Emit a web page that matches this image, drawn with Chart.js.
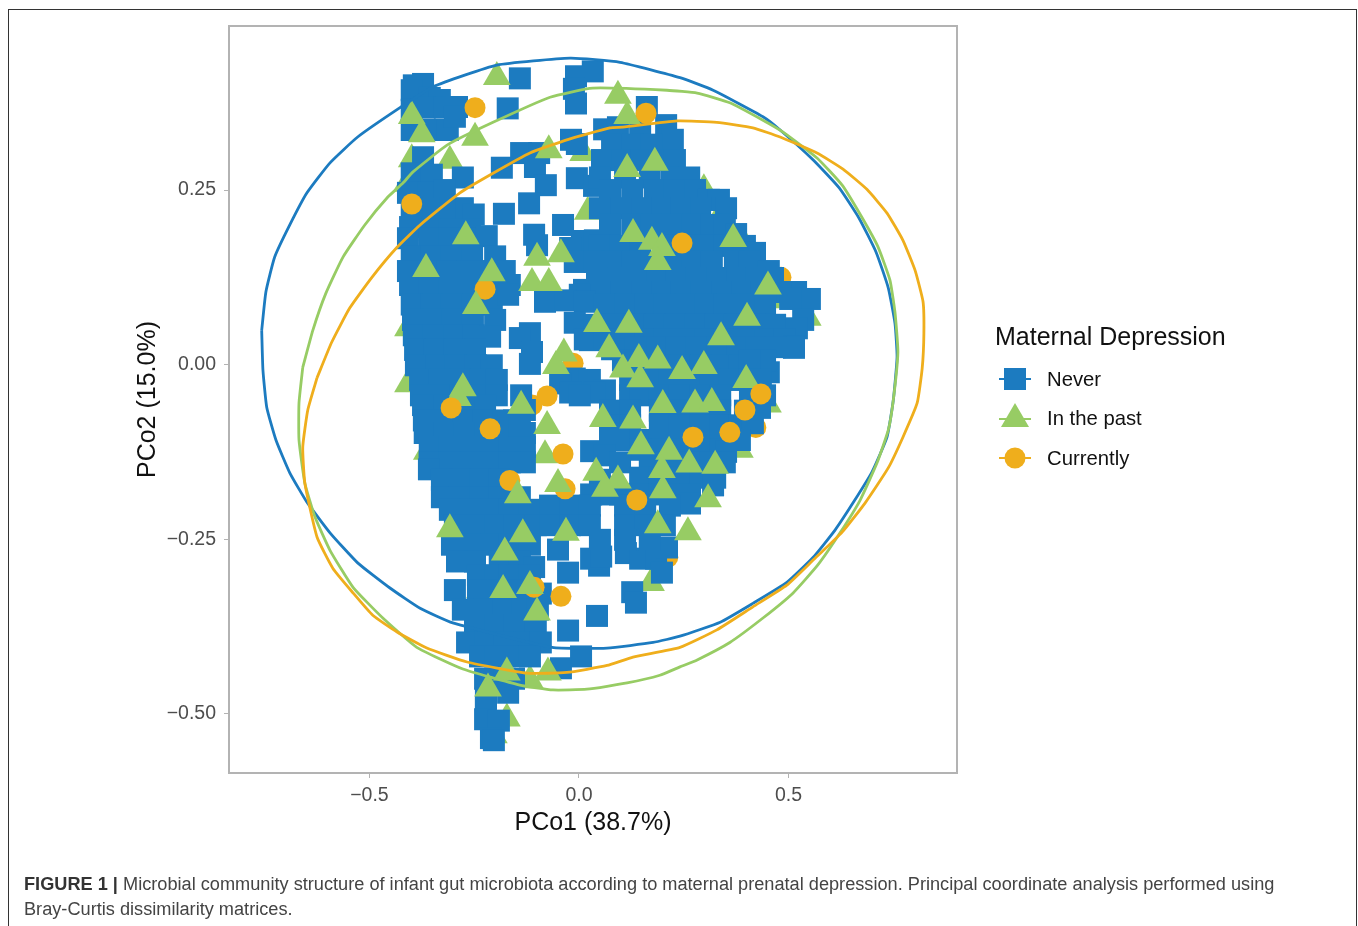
<!DOCTYPE html>
<html>
<head>
<meta charset="utf-8">
<title>Figure 1</title>
<script src="https://cdn.jsdelivr.net/npm/chart.js@4"></script>
<style>
    body { margin: 0; background: #fff; font-family: "Liberation Sans", Arial, sans-serif; }
    #wrap { position: relative; width: 1358px; height: 926px; overflow: hidden; }
    #frame { position: absolute; left: 8px; top: 9px; width: 1347px; height: 930px; border: 1px solid #333; }
    #chart { position: absolute; left: 0; top: 0; }
    #legend { position: absolute; left: 995px; top: 319px; color: #111; }
    #legendTitle { font-size: 25px; line-height: 34px; white-space: nowrap; }
    .item { position: absolute; left: 0; width: 200px; height: 40px; font-size: 20.3px; line-height: 40px; white-space: nowrap; }
    .item svg { position: absolute; left: 0; top: 0; }
    .item span { position: absolute; left: 52px; }
    #caption { position: absolute; left: 24px; top: 872px; width: 1310px; font-size: 18.18px; line-height: 25px; color: #444; white-space: nowrap; }
    #caption b { color: #333; }
</style>
</head>
<body>
<div id="wrap">
    <div id="frame"></div>
    <canvas id="chart" width="1358" height="926"></canvas>
    <div id="legend">
        <div id="legendTitle">Maternal Depression</div>
        <div class="item" style="top:40px"><svg width="40" height="40"><line x1="4" y1="20" x2="36" y2="20" stroke="#1c7bc0" stroke-width="2"/><rect x="9" y="9" width="22" height="22" fill="#1c7bc0"/></svg><span>Never</span></div>
        <div class="item" style="top:79px"><svg width="40" height="40"><line x1="4" y1="21" x2="36" y2="21" stroke="#97cc64" stroke-width="2"/><polygon points="20,5 34,29 6,29" fill="#97cc64"/></svg><span>In the past</span></div>
        <div class="item" style="top:119px"><svg width="40" height="40"><line x1="4" y1="20" x2="36" y2="20" stroke="#efae1c" stroke-width="2"/><circle cx="20" cy="20" r="10.5" fill="#efae1c"/></svg><span>Currently</span></div>
    </div>
    <div id="caption"><b>FIGURE 1 |</b> Microbial community structure of infant gut microbiota according to maternal prenatal depression. Principal coordinate analysis performed using<br>Bray-Curtis dissimilarity matrices.</div>
</div>
<script>
const xTicks = [-0.5, 0, 0.5];
const xTickLabels = ['\u22120.5', '0.0', '0.5'];
const yTicks = [-0.5, -0.25, 0, 0.25];
const yTickLabels = ['\u22120.50', '\u22120.25', '0.00', '0.25'];

const neverPoints = [
    [-.141,.410],[-.007,.413],[.033,.420],[-.012,.395],[-.007,.374],[-.170,.367],[.162,.369],
    [-.138,.303],[-.095,.303],[-.184,.282],[-.105,.283],[-.079,.257],[-.119,.231],[-.179,.216],[-.019,.322],[-.005,.316],
    [-.005,.267],[.036,.256],[-.038,.200],[-.107,.186],[-.100,.171],[.007,.177],[-.021,.167],[.043,.143],[.012,.107],
    [-.010,.147],[.038,.178],[.026,.035],
    [-.394,.400],[-.372,.402],[-.399,.393],[-.356,.382],[-.332,.379],[-.399,.365],[-.368,.368],[-.320,.368],[-.291,.369],
    [-.399,.336],[-.351,.336],[-.313,.336],[-.296,.355],[-.372,.297],[-.399,.274],[-.351,.272],[-.277,.268],
    [-.408,.246],[-.360,.246],[-.320,.250],[-.277,.224],[-.320,.224],[-.360,.224],[-.399,.224],[-.251,.215],
    [-.403,.197],[-.356,.193],[-.308,.193],[-.260,.193],[-.408,.181],[-.356,.181],[-.308,.181],[-.260,.181],[-.220,.184],
    [-.399,.155],[-.351,.155],[-.303,.155],[-.255,.155],[-.200,.155],[-.408,.134],[-.360,.134],[-.313,.134],[-.265,.134],[-.217,.134],[-.177,.134],
    [-.403,.114],[-.356,.114],[-.308,.114],[-.260,.114],[-.212,.114],[-.165,.114],
    [-.399,.086],[-.351,.086],[-.303,.086],[-.255,.086],[-.208,.086],[-.169,.100],
    [-.396,.064],[-.348,.064],[-.301,.064],[-.253,.064],[-.200,.064],[-.394,.042],[-.346,.042],[-.298,.042],[-.251,.042],[-.212,.040],
    [-.391,.021],[-.344,.021],[-.296,.021],[-.248,.021],[-.389,-.001],[-.341,-.001],[-.294,-.001],[-.246,-.001],[-.208,-.001],
    [-.379,-.022],[-.332,-.022],[-.284,-.022],[-.236,-.022],[-.196,-.022],[-.377,-.044],[-.329,-.044],[-.282,-.044],[-.234,-.044],[-.196,-.044],
    [-.372,-.058],[-.320,-.058],[-.272,-.058],[-.224,-.058],[-.370,-.080],[-.322,-.080],[-.275,-.080],[-.227,-.080],[-.179,-.080],[-.155,-.080],
    [-.368,-.098],[-.320,-.098],[-.272,-.098],[-.224,-.098],[-.177,-.098],[-.129,-.098],
    [-.356,-.118],[-.308,-.118],[-.260,-.118],[-.212,-.118],[-.165,-.118],[-.129,-.118],
    [-.356,-.140],[-.308,-.140],[-.260,-.140],[-.212,-.140],[-.165,-.140],[-.129,-.140],[-.358,-.150],
    [-.327,-.165],[-.284,-.165],[-.236,-.165],[-.189,-.165],[-.327,-.190],[-.284,-.190],[-.236,-.190],[-.189,-.190],[-.141,-.190],
    [-.308,-.208],[-.260,-.208],[-.212,-.208],[-.165,-.208],[-.117,-.208],[-.296,-.230],[-.248,-.230],[-.200,-.230],[-.153,-.230],[-.103,-.230],
    [-.303,-.258],[-.260,-.258],[-.212,-.258],[-.165,-.258],[-.117,-.258],[-.050,-.265],
    [-.291,-.282],[-.248,-.282],[-.189,-.282],[-.141,-.282],[-.107,-.290],[-.241,-.302],[-.200,-.302],[-.165,-.302],[-.117,-.302],[-.026,-.298],
    [-.296,-.323],[-.241,-.323],[-.193,-.323],[-.141,-.323],[-.091,-.328],
    [-.277,-.351],[-.229,-.351],[-.181,-.351],[-.134,-.351],[-.098,-.351],[-.248,-.373],[-.200,-.373],[-.153,-.373],[-.103,-.373],
    [-.267,-.398],[-.224,-.398],[-.177,-.398],[-.129,-.398],[-.091,-.398],[-.236,-.418],[-.200,-.418],[-.155,-.418],[-.117,-.418],
    [-.224,-.450],[-.177,-.450],[-.155,-.450],[-.222,-.478],[-.169,-.470],[-.222,-.488],[-.224,-.508],[-.191,-.510],[-.210,-.535],[-.203,-.538],
    [-.026,-.381],[.005,-.418],[-.043,-.435],
    [.043,-.360],[.127,-.326],[.136,-.341],[.048,-.288],[.029,-.278],[.112,-.270],[.146,-.278],[.184,-.278],[.198,-.298],[.210,-.262],[.053,-.275],
    [.060,.337],[.093,.340],[.146,.340],[.208,.343],[.224,.322],[.079,.315],[.127,.315],[.174,.315],
    [.055,.293],[.103,.293],[.150,.293],[.193,.293],[.229,.293],[.263,.268],[.222,.268],[.169,.268],[.110,.268],[.050,.268],
    [.074,.250],[.127,.250],[.181,.250],[.229,.250],[.277,.250],[.310,.236],[.334,.236],
    [.351,.224],[.289,.224],[.241,.224],[.193,.224],[.146,.224],[.098,.224],[.050,.224],
    [.074,.200],[.127,.200],[.174,.200],[.222,.200],[.270,.200],[.317,.200],[.348,.200],[.375,.187],
    [.050,.170],[.098,.170],[.146,.170],[.205,.170],[.253,.170],[.301,.170],[.348,.170],[.396,.170],[.420,.160],
    [.038,.147],[.079,.147],[.127,.147],[.174,.147],[.222,.147],[.270,.147],[.317,.147],[.372,.147],[.408,.147],[.453,.134],
    [.463,.124],[.420,.124],[.372,.124],[.325,.124],[.277,.124],[.229,.124],[.181,.124],[.134,.124],[.086,.124],[.043,.124],
    [.518,.104],[.480,.104],[.432,.104],[.384,.104],[.337,.104],[.289,.104],[.241,.104],[.193,.104],[.146,.104],[.098,.104],[.050,.104],[.002,.100],
    [.551,.094],[.504,.094],[-.081,.090],[-.033,.092],[.014,.090],[.062,.086],[.110,.086],[.158,.086],[.205,.086],[.253,.086],[.301,.086],[.348,.086],[.396,.086],[.444,.086],
    [-.010,.060],[.038,.057],[.086,.057],[.134,.057],[.181,.057],[.229,.057],[.277,.057],[.325,.057],[.372,.057],[.420,.057],[.468,.057],[.535,.064],[.520,.052],
    [.014,.036],[.062,.036],[.110,.036],[.158,.036],[.205,.036],[.253,.036],[.301,.036],[.348,.036],[.396,.036],[.444,.036],[.491,.036],[.513,.026],
    [.513,.024],[.468,.025],[.420,.025],[.372,.025],[.325,.025],[.277,.025],[.229,.025],[.181,.025],[.134,.025],[.079,.022],
    [-.117,.045],[-.141,.038],[-.112,.018],[-.117,.001],
    [.105,.006],[.146,-.001],[.193,-.001],[.241,-.001],[.289,-.001],[.337,-.001],[.384,-.001],[.453,-.011],[.444,.006],[.408,.006],
    [-.010,-.020],[.026,-.022],[.122,-.022],[.169,-.022],[.217,-.022],[.265,-.022],[.313,-.022],[.360,-.022],[.408,-.022],[.434,-.022],
    [-.045,-.027],[.062,-.037],[-.021,-.040],[.038,-.040],[.002,-.044],
    [-.138,-.044],[-.129,-.065],[-.141,-.087],
    [.122,-.044],[.146,-.044],[.193,-.044],[.241,-.044],[.289,-.044],[.337,-.044],[.408,-.044],[.444,-.044],
    [.074,-.066],[.122,-.066],[.193,-.066],[.241,-.066],[.289,-.066],[.337,-.066],[.396,-.066],[.432,-.062],
    [.074,-.087],[.122,-.087],[.193,-.087],[.241,-.087],[.289,-.087],[.337,-.087],[.384,-.087],[.415,-.084],
    [.098,-.108],[.146,-.108],[.193,-.108],[.241,-.108],[.289,-.108],[.337,-.108],[.384,-.108],
    [.029,-.124],[.146,-.122],[.193,-.122],[.241,-.122],[.289,-.122],[.337,-.122],[.351,-.125],
    [.074,-.108],[.062,-.130],[.050,-.165],
    [.098,-.140],[.169,-.140],[.217,-.140],[.265,-.140],[.313,-.140],[.348,-.140],
    [.146,-.162],[.193,-.162],[.241,-.162],[.289,-.162],[.325,-.162],[.320,-.173],
    [.146,-.186],[.193,-.186],[.236,-.186],[.265,-.186],[.265,-.199],
    [.029,-.186],[.062,-.186],[.098,-.186],
    [-.069,-.202],[-.021,-.202],[.026,-.202],[.110,-.202],[.158,-.202],[.217,-.202],
    [-.069,-.230],[-.021,-.230],[.026,-.230],[.110,-.230],[.158,-.230],[.205,-.230],
    [.050,-.251],[.110,-.251],[.169,-.251],
];
const pastPointsUnder = [
    [.010,.303],[-.308,.292],[-.399,.294],[-.411,.259],[-.351,.217],[.021,.219],[-.313,.107],[.298,.251],[.341,.218],
    [.389,.178],[.265,.157],[.496,.092],[.301,.061],[.444,.049],[.546,.067],[.451,-.057],[.384,-.122],[-.408,-.028],
    [-.363,-.125],[-.332,-.148],[-.231,-.165],[-.332,-.011],[-.081,-.130],[.172,-.313],[-.236,-.323],[-.408,.052],
    [-.117,-.452],[-.203,-.531],[-.172,-.507],
];
const pastPoints = [
    [-.196,.412],[-.399,.356],[-.375,.330],[-.248,.325],[-.072,.307],[-.270,.184],[-.100,.153],[-.043,.158],[-.365,.137],
    [-.208,.131],[-.112,.117],[-.072,.117],[-.246,.084],[.093,.385],[.115,.356],[.115,.280],[.181,.289],[.368,.180],
    [.129,.187],[.174,.176],[.198,.167],[.188,.147],[.451,.112],[.401,.067],[.043,.058],[.119,.057],[.339,.039],[.072,.022],
    [.143,.008],[.188,.006],[.246,-.009],[.298,-.002],[.399,-.022],[.105,-.007],[.146,-.021],[.057,-.078],[.129,-.080],
    [.148,-.117],[.215,-.125],[.263,-.143],[.325,-.145],[.198,-.151],[.200,-.180],[.308,-.193],[.260,-.240],[.188,-.230],
    [.041,-.155],[.093,-.166],[.062,-.178],[-.036,.016],[-.055,-.002],[-.277,-.034],[-.289,-.048],[-.138,-.059],[-.076,-.088],
    [-.050,-.171],[-.146,-.187],[-.134,-.243],[-.031,-.241],[-.308,-.236],[-.177,-.269],[-.117,-.317],[-.181,-.323],[-.100,-.355],
    [-.172,-.441],[-.074,-.441],[-.217,-.464],[.277,-.057],[.200,-.058],[.317,-.055],
];
const currentPointsUnder = [
    [-.336,-.047],[.422,-.090],[.212,-.276],[.482,.125],[.448,.110],[.332,.111],[.372,.061],[-.014,.002],[-.148,-.098],
    [-.112,-.058],[.067,-.173],[.177,-.173],[-.236,-.362],[.234,.204],
];
const currentPointsMid = [[-.224,.108],[-.165,-.166],[-.033,-.178],[-.107,-.319],[.138,-.194],[-.043,-.332]];
const currentPoints = [
    [-.248,.368],[-.399,.230],[.160,.360],[.246,.174],[-.212,-.092],[-.076,-.045],[-.038,-.128],[.272,-.104],[.360,-.097],
    [.396,-.065],[.434,-.042],[-.305,-.062],
];

const neverOutline = [
    [-.757,.049],[-.754,-.008],[-.745,-.061],[-.723,-.108],[-.690,-.155],[-.649,-.197],[-.594,-.241],[-.528,-.284],[-.451,-.320],
    [-.379,-.349],[-.301,-.370],[-.064,-.405],[.067,-.406],[.177,-.398],[.241,-.389],[.337,-.369],[.415,-.342],[.496,-.312],
    [.559,-.276],[.611,-.237],[.654,-.198],[.699,-.154],[.735,-.104],[.750,-.051],[.759,.011],[.754,.059],[.738,.110],[.709,.161],
    [.668,.210],[.621,.253],[.559,.293],[.480,.336],[.439,.355],[.320,.393],[.241,.411],[.098,.433],[-.021,.439],[-.196,.429],
    [-.348,.398],[-.427,.368],[-.528,.326],[-.594,.289],[-.649,.246],[-.690,.200],[-.726,.154],[-.747,.104],[-.757,.049],
];
const pastOutline = [
    [-.659,-.004],[-.668,-.055],[-.668,-.108],[-.654,-.170],[-.630,-.218],[-.594,-.266],[-.539,-.319],[-.468,-.363],[-.387,-.405],
    [-.277,-.436],[-.141,-.459],[-.062,-.466],[.019,-.465],[.115,-.456],[.193,-.445],[.241,-.433],[.282,-.423],[.360,-.398],
    [.439,-.363],[.511,-.327],[.570,-.287],[.623,-.241],[.671,-.194],[.711,-.141],[.738,-.094],[.750,-.051],[.761,.018],[.754,.075],
    [.742,.121],[.714,.168],[.675,.211],[.628,.257],[.568,.296],[.487,.333],[.439,.350],[.360,.375],[.282,.389],[.210,.393],
    [.033,.396],[-.069,.383],[-.205,.347],[-.313,.315],[-.396,.276],[-.420,.260],[-.456,.240],[-.511,.200],[-.563,.154],[-.604,.102],
    [-.635,.049],[-.659,-.004],
];
const currentOutline = [
    [-.625,-.019],[-.647,-.065],[-.659,-.118],[-.654,-.170],[-.625,-.247],[-.587,-.292],[-.539,-.327],[-.492,-.359],[-.434,-.383],
    [-.363,-.406],[-.267,-.426],[-.124,-.442],[-.029,-.441],[.067,-.431],[.129,-.419],[.241,-.405],[.329,-.380],[.415,-.347],
    [.496,-.316],[.559,-.280],[.628,-.240],[.683,-.198],[.738,-.148],[.773,-.104],[.807,-.055],[.819,-.005],[.823,.045],[.821,.090],
    [.802,.135],[.773,.178],[.735,.217],[.687,.251],[.630,.280],[.568,.303],[.480,.326],[.415,.339],[.329,.347],[.234,.349],
    [.105,.340],[.074,.339],[-.029,.322],[-.117,.303],[-.205,.274],[-.284,.246],[-.379,.200],[-.434,.168],[-.494,.125],[-.547,.081],
    [-.590,.032],[-.625,-.019],
];

const BLUE = '#1c7bc0';
const GREEN = '#97cc64';
const ORANGE = '#efae1c';
const GREY = '#b3b3b3';
const toXY = list => list.map(p => ({ x: p[0], y: p[1] }));

function markers(list, style, radius, color, order) {
    return {
        data: toXY(list), pointStyle: style, pointRadius: radius, backgroundColor: color,
        pointBorderWidth: 0, showLine: false, order: order
    };
}
function outline(list, color, order) {
    return {
        data: toXY(list), borderColor: color, borderWidth: 2.8, pointRadius: 0,
        showLine: true, tension: 0.15, fill: false, order: order
    };
}

// keeps the panel box closed on the top and right too
const panelBox = {
    id: 'panelBox',
    afterDatasetsDraw(chart) {
        const a = chart.chartArea, c = chart.ctx;
        c.save();
        c.strokeStyle = GREY;
        c.lineWidth = 2;
        c.strokeRect(a.left, a.top, a.width, a.height);
        c.restore();
    }
};

new Chart(document.getElementById('chart'), {
    type: 'scatter',
    data: {
        datasets: [
            outline(currentOutline, ORANGE, 1),
            outline(pastOutline, GREEN, 2),
            outline(neverOutline, BLUE, 3),
            markers(currentPoints, 'circle', 10.5, ORANGE, 4),
            markers(pastPoints, 'triangle', 16, GREEN, 5),
            markers(currentPointsMid, 'circle', 10.5, ORANGE, 6),
            markers(neverPoints, 'rect', 15.56, BLUE, 7),
            markers(pastPointsUnder, 'triangle', 16, GREEN, 8),
            markers(currentPointsUnder, 'circle', 10.5, ORANGE, 9)
        ]
    },
    plugins: [panelBox],
    options: {
        responsive: false,
        animation: false,
        clip: false,
        layout: { padding: { left: 133, right: 401, top: 26, bottom: 88 } },
        plugins: { legend: { display: false }, tooltip: { enabled: false } },
        scales: {
            x: {
                type: 'linear', min: -0.835, max: 0.902,
                afterBuildTicks: s => { s.ticks = xTicks.map(v => ({ value: v })); },
                afterFit: s => { s.height = 65; },
                grid: { drawOnChartArea: false, drawTicks: true, tickLength: 5, tickColor: GREY, tickWidth: 1 },
                border: { display: false },
                ticks: {
                    color: '#4d4d4d', font: { size: 19.5, family: '"Liberation Sans"' }, padding: 6, maxRotation: 0,
                    callback: v => xTickLabels[xTicks.indexOf(v)]
                },
                title: { display: true, text: 'PCo1 (38.7%)', color: '#111', font: { size: 25, family: '"Liberation Sans"' }, padding: { top: 0, bottom: 0 } }
            },
            y: {
                type: 'linear', min: -0.585, max: 0.485,
                afterBuildTicks: s => { s.ticks = yTicks.map(v => ({ value: v })); },
                afterFit: s => { s.width = 96; },
                grid: { drawOnChartArea: false, drawTicks: true, tickLength: 5, tickColor: GREY, tickWidth: 1 },
                border: { display: false },
                ticks: {
                    color: '#4d4d4d', font: { size: 19.5, family: '"Liberation Sans"' }, padding: 8,
                    callback: v => yTickLabels[yTicks.indexOf(v)]
                },
                title: { display: true, text: 'PCo2 (15.0%)', color: '#111', font: { size: 25, family: '"Liberation Sans"' }, padding: { top: 0, bottom: 0 } }
            }
        }
    }
});

</script>
</body>
</html>
